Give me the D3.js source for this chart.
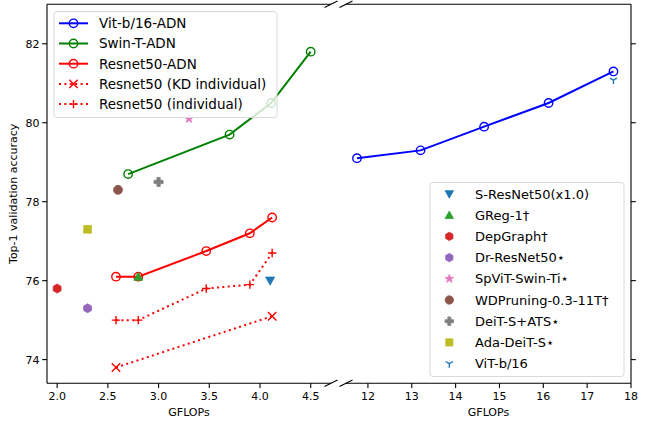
<!DOCTYPE html>
<html>
<head>
<meta charset="utf-8">
<script src="https://cdn.jsdelivr.net/npm/d3@7"></script>
<style>
  body { margin: 0; background: #fff; }
  svg { display: block; font-family: "DejaVu Sans", sans-serif; }
</style>
</head>
<body>
<svg id="canvas" width="647" height="421"></svg>
<script>
// ADN curves
var vitX = [11.75, 13.2, 14.65, 16.12, 17.6];
var vitY = [79.1, 79.3, 79.9, 80.5, 81.3];
var swinX = [2.7, 3.7, 4.11, 4.5];
var swinY = [78.7, 79.7, 80.5, 81.8];
var resX = [2.58, 2.8, 3.47, 3.9, 4.12];
var resY = [76.1, 76.1, 76.75, 77.2, 77.6];
var kdX = [2.58, 4.12];
var kdY = [73.8, 75.1];
var indX = [2.58, 2.8, 3.47, 3.9, 4.12];
var indY = [75.0, 75.0, 75.8, 75.9, 76.7];

// single results
var otherNames = ["S-ResNet50(x1.0)", "GReg-1\u2020", "DepGraph\u2020", "Dr-ResNet50\u22c6",
	"SpViT-Swin-Ti\u22c6", "WDPruning-0.3-11T\u2020", "DeiT-S+ATS\u22c6", "Ada-DeiT-S\u22c6", "ViT-b/16"];
var otherX = [4.1, 2.8, 2.0, 2.3, 3.3, 2.6, 3.0, 2.3, 17.6];
var otherY = [76.0, 76.1, 75.8, 75.3, 80.1, 78.3, 78.5, 77.3, 81.08];
var otherMarkers = ["v", "^", "h", "h", "*", "o", "P", "s", "1"];
var otherColors = ["#1f77b4", "#2ca02c", "#d62728", "#9467bd", "#e377c2", "#8c564b", "#7f7f7f", "#bcbd22", "#1f77b4"];

var leftTicks = [2.0, 2.5, 3.0, 3.5, 4.0, 4.5];
var rightTicks = [12, 13, 14, 15, 16, 17, 18];
var yTicks = [74, 76, 78, 80, 82];

var svg = d3.select("#canvas");
var yTop = 4.3, yBot = 383.3;
var xL = d3.scaleLinear().domain([1.9, 4.7]).range([47, 331]);
var xR = d3.scaleLinear().domain([11.5, 18]).range([346, 631]);
var y = d3.scaleLinear().domain([73.4, 83.0]).range([yBot, yTop]);

function markerPath(m, s){
	// s = marker size in px
	var r = s / 2;
	switch(m){
		case "v": return "M" + (-r) + "," + (-r * 0.8) + "L" + r + "," + (-r * 0.8) + "L0," + (r * 1.0) + "Z";
		case "^": return "M" + (-r) + "," + (r * 0.8) + "L" + r + "," + (r * 0.8) + "L0," + (-r * 1.0) + "Z";
		case "h":
			var p = [];
			for(var i = 0; i < 6; i++){
				var a = i * Math.PI / 3 + Math.PI / 2;
				p.push([r * Math.cos(a), r * Math.sin(a)]);
			}
			return "M" + p.join("L") + "Z";
		case "*":
			var q = [];
			for(var k = 0; k < 10; k++){
				var rr = k % 2 === 0 ? r : r * 0.4;
				var b = -Math.PI / 2 + k * Math.PI / 5;
				q.push([rr * Math.cos(b), rr * Math.sin(b)]);
			}
			return "M" + q.join("L") + "Z";
		case "s": return "M" + (-r * 0.85) + "," + (-r * 0.85) + "h" + (r * 1.7) + "v" + (r * 1.7) + "h" + (-r * 1.7) + "Z";
		case "P":
			var t = r * 0.36;
			return "M" + (-t) + "," + (-r) + "H" + t + "V" + (-t) + "H" + r + "V" + t + "H" + t + "V" + r +
				"H" + (-t) + "V" + t + "H" + (-r) + "V" + (-t) + "H" + (-t) + "Z";
		default: return d3.symbol(d3.symbolCircle, Math.PI * r * r)();
	}
}

function drawMarker(g, m, color, cx, cy, s){
	if(m === "1"){
		var r = s / 2;
		g.append("path")
			.attr("transform", "translate(" + cx + "," + cy + ")")
			.attr("d", "M0,0V" + r + "M0,0L" + (-r * 0.87) + "," + (-r * 0.5) + "M0,0L" + (r * 0.87) + "," + (-r * 0.5))
			.attr("stroke", color).attr("stroke-width", 1.4).attr("fill", "none");
		return;
	}
	if(m === "x" || m === "+"){
		var h = s / 2;
		var d = m === "x" ? "M" + (-h) + "," + (-h) + "L" + h + "," + h + "M" + (-h) + "," + h + "L" + h + "," + (-h)
			: "M" + (-h) + ",0H" + h + "M0," + (-h) + "V" + h;
		g.append("path")
			.attr("transform", "translate(" + cx + "," + cy + ")")
			.attr("d", d).attr("stroke", color).attr("stroke-width", 1.4).attr("fill", "none");
		return;
	}
	if(m === "O"){
		g.append("circle").attr("cx", cx).attr("cy", cy).attr("r", s / 2)
			.attr("fill", "none").attr("stroke", color).attr("stroke-width", 1.4);
		return;
	}
	g.append("path")
		.attr("transform", "translate(" + cx + "," + cy + ")")
		.attr("d", markerPath(m, s))
		.attr("fill", color).attr("stroke", color).attr("stroke-width", 0.8);
}

var series = [
	{name: "Vit-b/16-ADN", xs: vitX, ys: vitY, color: "#0000ff", marker: "O", dash: null, scale: xR},
	{name: "Swin-T-ADN", xs: swinX, ys: swinY, color: "#008000", marker: "O", dash: null, scale: xL},
	{name: "Resnet50-ADN", xs: resX, ys: resY, color: "#ff0000", marker: "O", dash: null, scale: xL},
	{name: "Resnet50 (KD individual)", xs: kdX, ys: kdY, color: "#ff0000", marker: "x", dash: "2,3.4", scale: xL},
	{name: "Resnet50 (individual)", xs: indX, ys: indY, color: "#ff0000", marker: "+", dash: "2,3.4", scale: xL}
];

var plot = svg.append("g");
var line = d3.line();

series.forEach(function(s){
	var pts = s.xs.map(function(v, i){ return [s.scale(v), y(s.ys[i])]; });
	plot.append("path")
		.attr("d", line(pts))
		.attr("fill", "none")
		.attr("stroke", s.color)
		.attr("stroke-width", 2)
		.attr("stroke-dasharray", s.dash);
	pts.forEach(function(p){
		drawMarker(plot, s.marker, s.color, p[0], p[1], 8.4);
	});
});

// scatter points drawn after the curves
otherX.forEach(function(v, i){
	var sc = v > 10 ? xR : xL;
	var sz = otherMarkers[i] === "1" ? 8 : 9;
	drawMarker(plot, otherMarkers[i], otherColors[i], sc(v), y(otherY[i]), sz);
});

// spines
var axes = svg.append("g").attr("stroke", "#000").attr("stroke-width", 1.1).attr("fill", "none");
axes.append("line").attr("x1", 47).attr("x2", 47).attr("y1", yTop).attr("y2", yBot);
axes.append("line").attr("x1", 47).attr("x2", 331).attr("y1", yTop).attr("y2", yTop);
axes.append("line").attr("x1", 47).attr("x2", 331).attr("y1", yBot).attr("y2", yBot);
axes.append("line").attr("x1", 346).attr("x2", 631).attr("y1", yTop).attr("y2", yTop);
axes.append("line").attr("x1", 346).attr("x2", 631).attr("y1", yBot).attr("y2", yBot);
axes.append("line").attr("x1", 631).attr("x2", 631).attr("y1", yTop).attr("y2", yBot);

// break marks
[331, 346].forEach(function(bx){
	[yTop, yBot].forEach(function(by){
		axes.append("line").attr("x1", bx - 6.5).attr("y1", by + 3.2).attr("x2", bx + 6.5).attr("y2", by - 3.2);
	});
});

// ticks
var tickG = svg.append("g").attr("font-size", 11).attr("fill", "#000");
function xTicks(sc, ticks, fmt){
	ticks.forEach(function(t){
		tickG.append("line").attr("x1", sc(t)).attr("x2", sc(t)).attr("y1", yBot).attr("y2", yBot + 4.8)
			.attr("stroke", "#000").attr("stroke-width", 1.1);
		tickG.append("text").attr("x", sc(t)).attr("y", yBot + 16.5).attr("text-anchor", "middle").text(fmt(t));
	});
}
xTicks(xL, leftTicks, d3.format(".1f"));
xTicks(xR, rightTicks, d3.format("d"));
yTicks.forEach(function(t){
	tickG.append("line").attr("x1", 47).attr("x2", 42.2).attr("y1", y(t)).attr("y2", y(t))
		.attr("stroke", "#000").attr("stroke-width", 1.1);
	tickG.append("line").attr("x1", 631).attr("x2", 635.8).attr("y1", y(t)).attr("y2", y(t))
		.attr("stroke", "#000").attr("stroke-width", 1.1);
	tickG.append("text").attr("x", 39.5).attr("y", y(t)).attr("dy", "0.36em").attr("text-anchor", "end").text(t);
});

tickG.append("text").attr("x", (47 + 331) / 2).attr("y", 416).attr("text-anchor", "middle").text("GFLOPs");
tickG.append("text").attr("x", (346 + 631) / 2).attr("y", 416).attr("text-anchor", "middle").text("GFLOPs");
tickG.append("text").attr("transform", "translate(17," + ((yTop + yBot) / 2) + ") rotate(-90)")
	.attr("text-anchor", "middle").text("Top-1 validation accuracy");

// legend 1 (upper left)
var lg1 = svg.append("g");
lg1.append("rect").attr("x", 54).attr("y", 11.5).attr("width", 223).attr("height", 106).attr("rx", 3)
	.attr("fill", "#fff").attr("fill-opacity", 0.8).attr("stroke", "#d9d9d9").attr("stroke-width", 1);
series.forEach(function(s, i){
	var cy = 23.3 + i * 20.2;
	lg1.append("line").attr("x1", 59).attr("x2", 88).attr("y1", cy).attr("y2", cy)
		.attr("stroke", s.color).attr("stroke-width", 2).attr("stroke-dasharray", s.dash);
	drawMarker(lg1, s.marker, s.color, 73.5, cy, 8.4);
	lg1.append("text").attr("x", 99).attr("y", cy).attr("dy", "0.36em").attr("font-size", 13.5).text(s.name);
});

// legend 2 (lower right)
var lg2 = svg.append("g");
lg2.append("rect").attr("x", 430).attr("y", 182.5).attr("width", 194).attr("height", 194).attr("rx", 3)
	.attr("fill", "#fff").attr("fill-opacity", 0.8).attr("stroke", "#d9d9d9").attr("stroke-width", 1);
otherNames.forEach(function(n, i){
	var cy = 194 + i * 21.2;
	drawMarker(lg2, otherMarkers[i], otherColors[i], 449.3, cy, otherMarkers[i] === "*" ? 9 : 8.4);
	lg2.append("text").attr("x", 475).attr("y", cy).attr("dy", "0.36em").attr("font-size", 13).text(n);
});
</script>
</body>
</html>
